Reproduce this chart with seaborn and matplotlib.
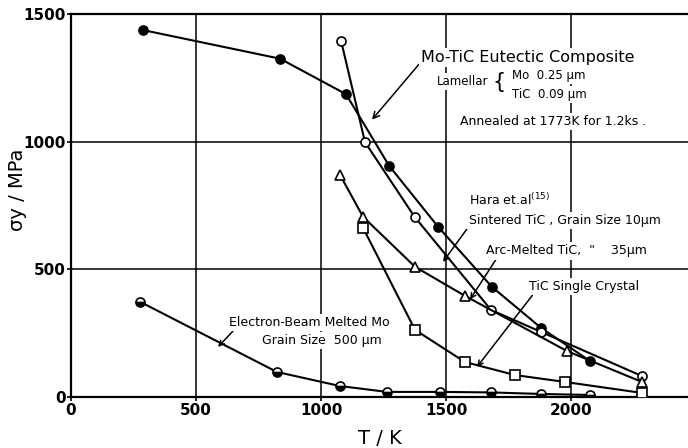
import numpy as np
import matplotlib
matplotlib.use('Agg')
import matplotlib.pyplot as plt
import seaborn as sns

# yield stress vs temperature
mo_tic_T = [288, 836, 1100, 1272, 1468, 1684, 1880, 2076]
mo_tic_s = [1437, 1325, 1186, 906, 667, 431, 271, 141]

sint_T = [1080, 1176, 1374, 1680, 1880, 2284]
sint_s = [1396, 998, 706, 341, 255, 82]

arc_T = [1076, 1168, 1376, 1576, 1984, 2284]
arc_s = [870, 706, 510, 396, 180, 59]

single_T = [1168, 1376, 1576, 1776, 1976, 2284]
single_s = [663, 263, 137, 86, 59, 16]

ebm_T = [276, 824, 1076, 1264, 1476, 1680, 1880, 2076]
ebm_s = [373, 98, 43, 20, 20, 18, 12, 8]

x_ticks = [0, 500, 1000, 1500, 2000]
y_ticks = [0, 500, 1000, 1500]

sns.set_theme(style='white')
plt.rcParams['font.family'] = ['DejaVu Sans']
plt.rcParams['text.color'] = 'black'
plt.rcParams['axes.labelcolor'] = 'black'

fig = plt.figure(figsize=(6.88, 4.48), dpi=100)
ax = fig.add_axes([0.1032, 0.1138, 0.8968, 0.855])

line_kw = dict(color='black', linewidth=1.5, sort=False, estimator=None,
               markersize=6.5, markeredgecolor='black', markeredgewidth=1.2, zorder=3)
sns.lineplot(x=mo_tic_T, y=mo_tic_s, marker='o', markerfacecolor='black', ax=ax, **line_kw)
sns.lineplot(x=sint_T, y=sint_s, marker='o', markerfacecolor='white', ax=ax, **line_kw)
sns.lineplot(x=arc_T, y=arc_s, marker='^', markerfacecolor='white', ax=ax, **line_kw)
sns.lineplot(x=single_T, y=single_s, marker='s', markerfacecolor='white', ax=ax, **line_kw)
sns.lineplot(x=ebm_T, y=ebm_s, marker='o', markerfacecolor='black', fillstyle='bottom',
             markerfacecoloralt='white', ax=ax, **line_kw)

ax.set_xlim(0, 2468)
ax.set_ylim(0, 1500)
ax.set_xticks(x_ticks)
ax.set_yticks(y_ticks)
ax.tick_params(axis='both', labelsize=11, colors='black', length=3, width=1.2,
               direction='out', bottom=True, left=True, pad=1)
for lbl in ax.get_xticklabels() + ax.get_yticklabels():
    lbl.set_fontweight('bold')

ax.grid(True, color='black', linewidth=1.1, zorder=0)
for s in ['left', 'bottom', 'top']:
    ax.spines[s].set_color('black')
    ax.spines[s].set_linewidth(1.6)
ax.spines['right'].set_visible(False)

ax.set_xlabel('T / K', fontsize=14, labelpad=8)
ax.set_ylabel('σy / MPa', fontsize=14)
ax.yaxis.set_label_coords(-0.072, 0.54)

box = dict(facecolor='white', edgecolor='none', pad=1.5)
arrow = dict(arrowstyle='->', color='black', lw=1.1, shrinkA=0, shrinkB=0)

ax.annotate('Mo-TiC Eutectic Composite', xy=(1204, 1086), xytext=(1400, 1330),
            fontsize=11.5, ha='left', va='center', bbox=box,
            arrowprops=dict(arrow, relpos=(0.0, 0.2)), zorder=5)
ax.text(1465, 1235, 'Lamellar', fontsize=8.5, ha='left', va='center', bbox=box, zorder=5)
ax.text(1740, 1235, '{', fontsize=15, ha='right', va='center', zorder=5)
ax.text(1765, 1260, 'Mo  0.25 μm', fontsize=8.5, ha='left', va='center', bbox=box, zorder=5)
ax.text(1765, 1185, 'TiC  0.09 μm', fontsize=8.5, ha='left', va='center', bbox=box, zorder=5)
ax.text(1555, 1078, 'Annealed at 1773K for 1.2ks .', fontsize=9, ha='left', va='center',
        bbox=box, zorder=5)

ax.text(1590, 770, 'Hara et.al$^{(15)}$', fontsize=9, ha='left', va='center', bbox=box, zorder=5)
ax.annotate('Sintered TiC , Grain Size 10μm', xy=(1488, 529), xytext=(1590, 692),
            fontsize=9, ha='left', va='center', bbox=box,
            arrowprops=dict(arrow, relpos=(0.0, 0.0)), zorder=5)
ax.annotate('Arc-Melted TiC,  "    35μm', xy=(1596, 382), xytext=(1660, 572),
            fontsize=9, ha='left', va='center', bbox=box,
            arrowprops=dict(arrow, relpos=(0.07, 0)), zorder=5)
ax.annotate('TiC Single Crystal', xy=(1624, 118), xytext=(1830, 432),
            fontsize=9, ha='left', va='center', bbox=box,
            arrowprops=dict(arrow, relpos=(0.05, 0)), zorder=5)

ax.annotate('Electron-Beam Melted Mo', xy=(588, 196), xytext=(630, 292),
            fontsize=9, ha='left', va='center', bbox=box,
            arrowprops=dict(arrow, relpos=(0.04, 0)), zorder=5)
ax.text(765, 220, 'Grain Size  500 μm', fontsize=9, ha='left', va='center', bbox=box, zorder=5)

plt.savefig('out.png', dpi=100, facecolor='white')
plt.close()
